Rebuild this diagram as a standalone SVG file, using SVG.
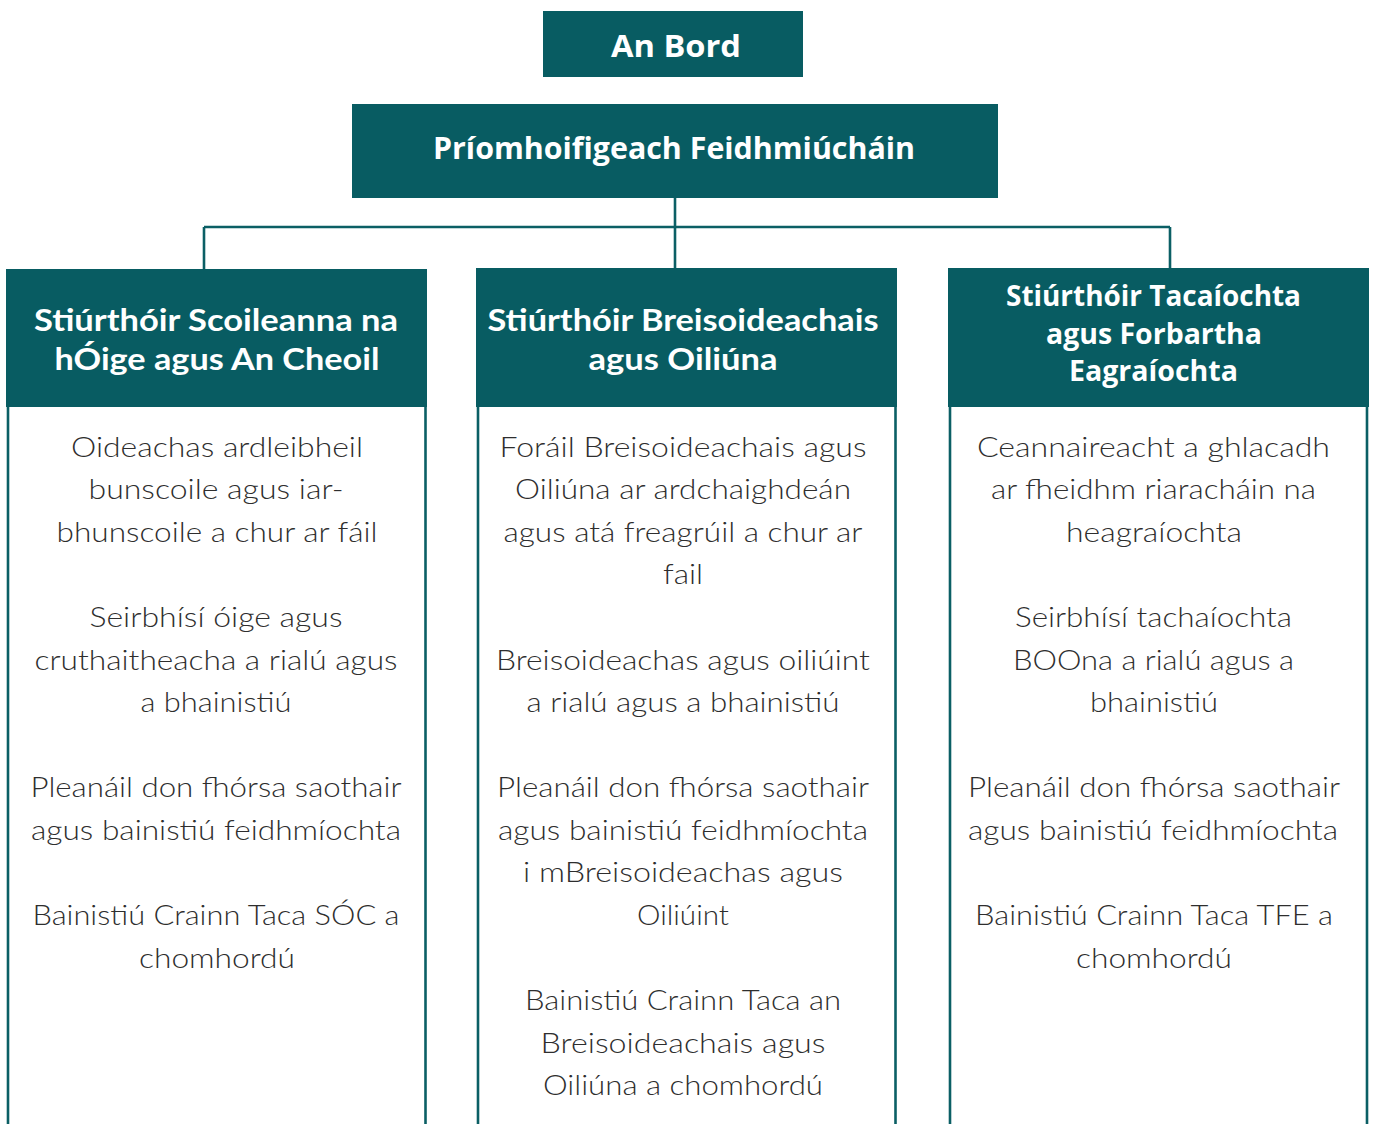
<svg xmlns="http://www.w3.org/2000/svg" width="1373" height="1124" viewBox="0 0 1373 1124">
<style>
.box{fill:#085c62}
.edge{stroke:#0b5f65;stroke-width:2.6;fill:none}
.side{stroke:#0b5f65;stroke-width:2.6;fill:none}
.top{font-family:"Open Sans","Lato","Liberation Sans",sans-serif;font-weight:700;fill:#ffffff;text-anchor:middle}
.hd{font-family:"Lato","Open Sans","Liberation Sans",sans-serif;font-weight:700;font-size:30px;fill:#ffffff;text-anchor:middle}
.hd3{font-family:"Open Sans","Liberation Sans",sans-serif;font-weight:700;font-size:28px;fill:#ffffff;text-anchor:middle}
.bd{font-family:"Lato","Open Sans","Liberation Sans",sans-serif;font-weight:300;font-size:28px;fill:#2e2e2e;text-anchor:middle}
</style>
<rect width="1373" height="1124" fill="#ffffff"/>
<g id="connectors">
<line class="edge" x1="675" y1="198" x2="675" y2="269"/>
<line class="edge" x1="204" y1="227" x2="1170" y2="227"/>
<line class="edge" x1="204" y1="227" x2="204" y2="269"/>
<line class="edge" x1="1170" y1="227" x2="1170" y2="269"/>
</g>
<g id="an-bord">
<rect class="box" x="543" y="11" width="260" height="66"/>
<text class="top" x="676" y="57" font-size="31" textLength="130" lengthAdjust="spacingAndGlyphs">An Bord</text>
</g>
<g id="priomhoifigeach">
<rect class="box" x="352" y="104" width="646" height="94"/>
<text class="top" x="674" y="159" font-size="30" textLength="482" lengthAdjust="spacingAndGlyphs">Príomhoifigeach Feidhmiúcháin</text>
</g>
<g id="col1">
<rect class="box" x="6" y="269" width="421" height="138"/>
<line class="side" x1="8" y1="407" x2="8" y2="1124"/>
<line class="side" x1="425.5" y1="407" x2="425.5" y2="1124"/>
<text class="hd" x="216" y="331" textLength="364" lengthAdjust="spacingAndGlyphs">Stiúrthóir Scoileanna na</text>
<text class="hd" x="217" y="370" textLength="325" lengthAdjust="spacingAndGlyphs">hÓige agus An Cheoil</text>
<text class="bd" x="217" y="456.5" textLength="292" lengthAdjust="spacingAndGlyphs">Oideachas ardleibheil</text>
<text class="bd" x="216" y="499" textLength="255" lengthAdjust="spacingAndGlyphs">bunscoile agus iar-</text>
<text class="bd" x="217" y="541.7" textLength="321" lengthAdjust="spacingAndGlyphs">bhunscoile a chur ar fáil</text>
<text class="bd" x="216" y="627" textLength="253" lengthAdjust="spacingAndGlyphs">Seirbhísí óige agus</text>
<text class="bd" x="216" y="669.5" textLength="363" lengthAdjust="spacingAndGlyphs">cruthaitheacha a rialú agus</text>
<text class="bd" x="216" y="712" textLength="151" lengthAdjust="spacingAndGlyphs">a bhainistiú</text>
<text class="bd" x="216" y="797" textLength="371" lengthAdjust="spacingAndGlyphs">Pleanáil don fhórsa saothair</text>
<text class="bd" x="216" y="839.8" textLength="370" lengthAdjust="spacingAndGlyphs">agus bainistiú feidhmíochta</text>
<text class="bd" x="216" y="925" textLength="367" lengthAdjust="spacingAndGlyphs">Bainistiú Crainn Taca SÓC a</text>
<text class="bd" x="217" y="967.6" textLength="156" lengthAdjust="spacingAndGlyphs">chomhordú</text>
</g>
<g id="col2">
<rect class="box" x="476" y="268" width="421" height="139"/>
<line class="side" x1="478" y1="407" x2="478" y2="1124"/>
<line class="side" x1="895.5" y1="407" x2="895.5" y2="1124"/>
<text class="hd" x="683" y="331" textLength="391" lengthAdjust="spacingAndGlyphs">Stiúrthóir Breisoideachais</text>
<text class="hd" x="683" y="370" textLength="189" lengthAdjust="spacingAndGlyphs">agus Oiliúna</text>
<text class="bd" x="683" y="456.5" textLength="367" lengthAdjust="spacingAndGlyphs">Foráil Breisoideachais agus</text>
<text class="bd" x="683" y="499" textLength="336" lengthAdjust="spacingAndGlyphs">Oiliúna ar ardchaighdeán</text>
<text class="bd" x="683" y="541.7" textLength="359" lengthAdjust="spacingAndGlyphs">agus atá freagrúil a chur ar</text>
<text class="bd" x="683" y="584.3" textLength="40" lengthAdjust="spacingAndGlyphs">fail</text>
<text class="bd" x="683" y="669.5" textLength="374" lengthAdjust="spacingAndGlyphs">Breisoideachas agus oiliúint</text>
<text class="bd" x="683" y="712" textLength="313" lengthAdjust="spacingAndGlyphs">a rialú agus a bhainistiú</text>
<text class="bd" x="683" y="797" textLength="372" lengthAdjust="spacingAndGlyphs">Pleanáil don fhórsa saothair</text>
<text class="bd" x="683" y="839.8" textLength="370" lengthAdjust="spacingAndGlyphs">agus bainistiú feidhmíochta</text>
<text class="bd" x="683" y="882.4" textLength="320" lengthAdjust="spacingAndGlyphs">i mBreisoideachas agus</text>
<text class="bd" x="683" y="925" textLength="92" lengthAdjust="spacingAndGlyphs">Oiliúint</text>
<text class="bd" x="683" y="1010" textLength="316" lengthAdjust="spacingAndGlyphs">Bainistiú Crainn Taca an</text>
<text class="bd" x="683" y="1052.8" textLength="285" lengthAdjust="spacingAndGlyphs">Breisoideachais agus</text>
<text class="bd" x="683" y="1095.4" textLength="280" lengthAdjust="spacingAndGlyphs">Oiliúna a chomhordú</text>
</g>
<g id="col3">
<rect class="box" x="948" y="268" width="421" height="139"/>
<line class="side" x1="950" y1="407" x2="950" y2="1124"/>
<line class="side" x1="1367" y1="407" x2="1367" y2="1124"/>
<text class="hd3" x="1153.5" y="306" textLength="295" lengthAdjust="spacingAndGlyphs">Stiúrthóir Tacaíochta</text>
<text class="hd3" x="1154" y="343.5" textLength="216" lengthAdjust="spacingAndGlyphs">agus Forbartha</text>
<text class="hd3" x="1153.5" y="381" textLength="169" lengthAdjust="spacingAndGlyphs">Eagraíochta</text>
<text class="bd" x="1153.5" y="456.5" textLength="353" lengthAdjust="spacingAndGlyphs">Ceannaireacht a ghlacadh</text>
<text class="bd" x="1153.5" y="499" textLength="325" lengthAdjust="spacingAndGlyphs">ar fheidhm riaracháin na</text>
<text class="bd" x="1154" y="541.7" textLength="176" lengthAdjust="spacingAndGlyphs">heagraíochta</text>
<text class="bd" x="1153.5" y="627" textLength="277" lengthAdjust="spacingAndGlyphs">Seirbhísí tachaíochta</text>
<text class="bd" x="1153.5" y="669.5" textLength="281" lengthAdjust="spacingAndGlyphs">BOOna a rialú agus a</text>
<text class="bd" x="1154" y="712" textLength="128" lengthAdjust="spacingAndGlyphs">bhainistiú</text>
<text class="bd" x="1154" y="797" textLength="372" lengthAdjust="spacingAndGlyphs">Pleanáil don fhórsa saothair</text>
<text class="bd" x="1153" y="839.8" textLength="370" lengthAdjust="spacingAndGlyphs">agus bainistiú feidhmíochta</text>
<text class="bd" x="1154" y="925" textLength="358" lengthAdjust="spacingAndGlyphs">Bainistiú Crainn Taca TFE a</text>
<text class="bd" x="1154" y="967.6" textLength="156" lengthAdjust="spacingAndGlyphs">chomhordú</text>
</g>
</svg>
